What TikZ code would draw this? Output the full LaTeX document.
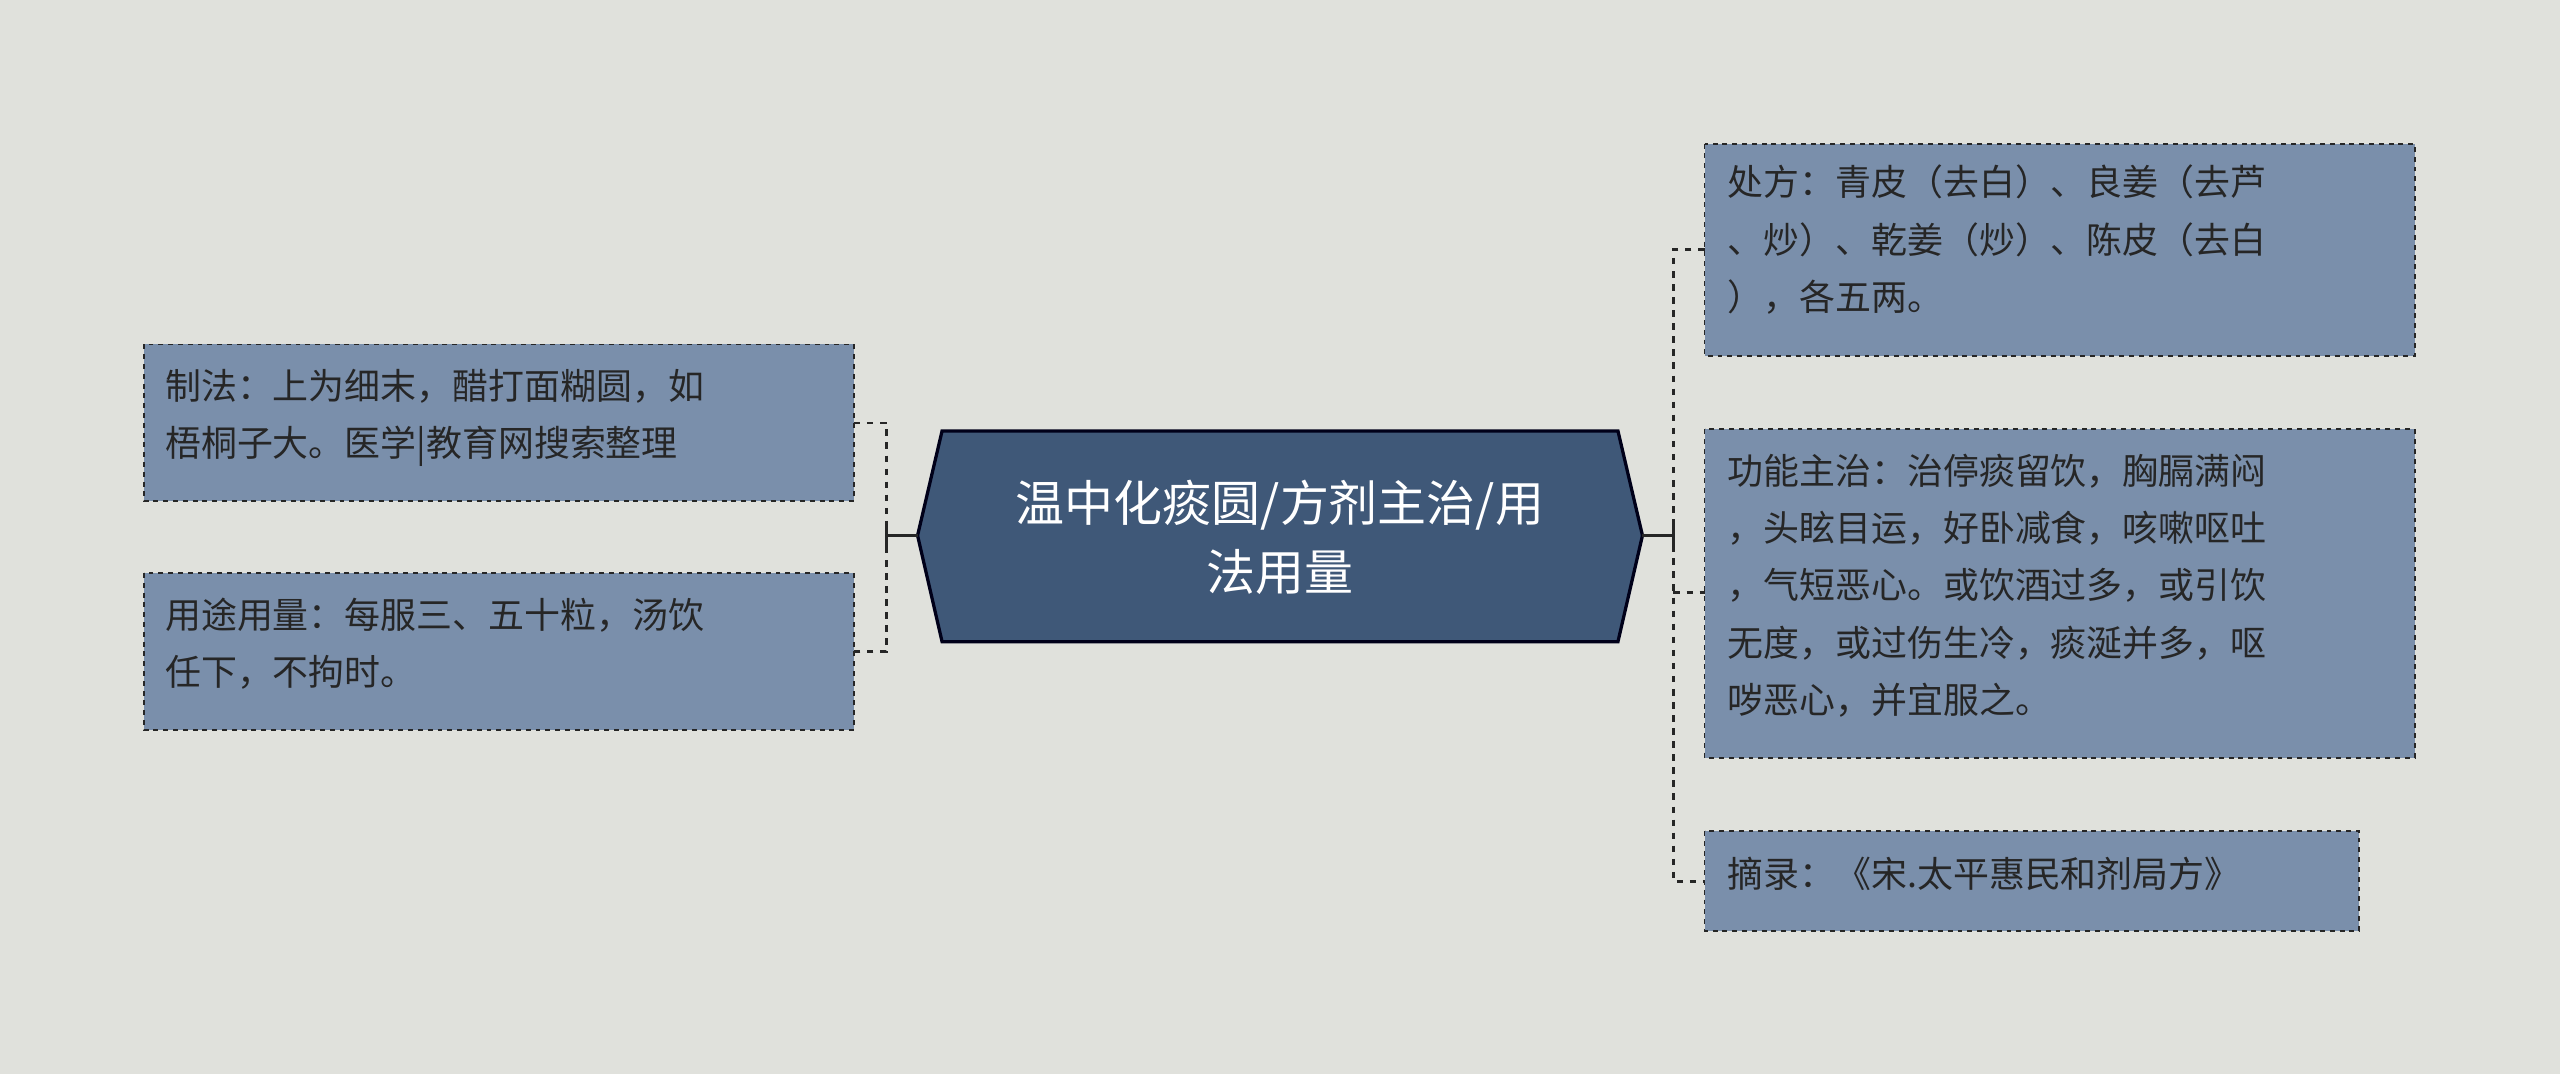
\documentclass[tikz,border=0pt]{standalone}
\usepackage{fontspec}
\setmainfont{Noto Sans CJK SC}
\begin{document}
\begin{tikzpicture}[x=1pt,y=-1pt,
  leaf/.style={draw=black!85,dashed,line width=1.2pt,fill=leafc},
  lt/.style={anchor=north west,inner sep=0pt,font=\fontsize{22}{35}\selectfont,text=black!85,align=left},
  conn/.style={draw=black!85,line width=1.6pt,dashed,dash pattern=on 4pt off 4pt}]
\definecolor{bg}{HTML}{E0E1DC}
\definecolor{leafc}{HTML}{7A8FAB}
\definecolor{mainc}{HTML}{3F5878}
\fill[bg] (0,0) rectangle (1568,658);
\useasboundingbox (0,0) rectangle (1568,658);
% center hexagon
\draw[fill=mainc,draw=black!90!blue,line width=2pt] (562,328) -- (577,264) -- (991,264) -- (1006,328) -- (991,393) -- (577,393) -- cycle;
\node[align=center,text=white,font=\fontsize{30}{42}\selectfont] (c) at (784,329) {温中化痰圆/方剂主治/用\\法用量};
% left boxes
\draw[leaf] (88,211) rectangle (523,307);
\node[lt] (l1) at (101,226) {制法：上为细末，醋打面糊圆，如\\梧桐子大。医学|教育网搜索整理};
\draw[leaf] (88,351) rectangle (523,447);
\node[lt] (l2) at (101,366) {用途用量：每服三、五十粒，汤饮\\任下，不拘时。};
% right boxes
\draw[leaf] (1044,88) rectangle (1479,218);
\node[lt] (r1) at (1058,101) {处方：青皮（去白）、良姜（去芦\\、炒）、乾姜（炒）、陈皮（去白\\），各五两。};
\draw[leaf] (1044,263) rectangle (1479,464);
\node[lt] (r2) at (1058,278) {功能主治：治停痰留饮，胸膈满闷\\，头眩目运，好卧减食，咳嗽呕吐\\，气短恶心。或饮酒过多，或引饮\\无度，或过伤生冷，痰涎并多，呕\\哕恶心，并宜服之。};
\draw[leaf] (1044,509) rectangle (1445,570);
\node[lt] (r3) at (1058,525) {摘录：《宋.太平惠民和剂局方》};
% connectors left
\coordinate (la) at (543,328);
\draw[black!85,line width=1.6pt] (562,328) -- (la);
\draw[black!85,line width=1.6pt] (543,321) -- (543,335);
\draw[conn] (523,259) -- (543,259) -- (543,399) -- (523,399);
% connectors right
\coordinate (ra) at (1025,328);
\draw[black!85,line width=1.6pt] (1006,328) -- (ra);
\draw[black!85,line width=1.6pt] (1025,321) -- (1025,335);
\draw[conn] (1044,153) -- (1025,153) -- (1025,540) -- (1044,540);
\draw[conn] (1025,363) -- (1044,363);
\end{tikzpicture}
\end{document}
